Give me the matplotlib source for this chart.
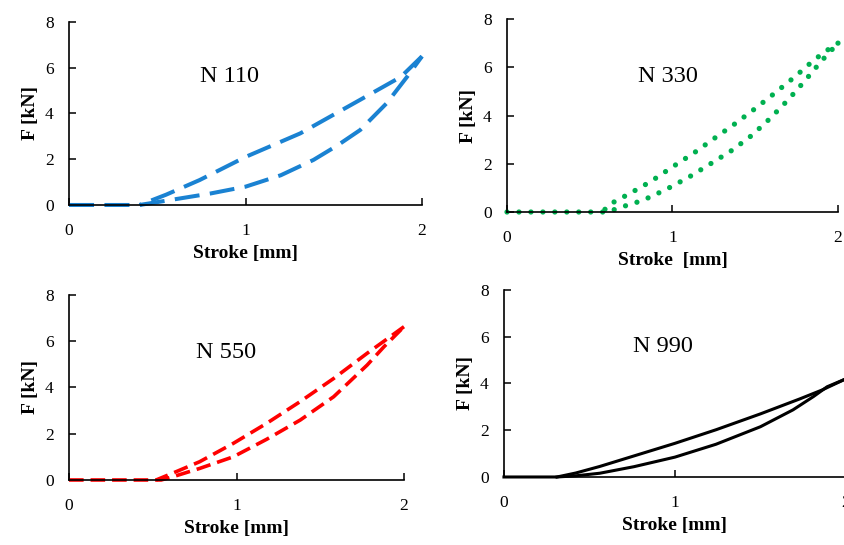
import matplotlib.pyplot as plt

plt.rcParams['font.family'] = ['Liberation Serif', 'DejaVu Serif']
plt.rcParams['lines.scale_dashes'] = False

# N 110 (loading / unloading), stroke in mm, force in kN
n110_load_x = [0.0, 0.4, 0.6, 0.8, 1.0, 1.2, 1.385, 1.52, 1.65, 1.8, 1.915, 2.0]
n110_load_f = [0.0, 0.0, 0.25, 0.5, 0.8, 1.3, 1.97, 2.6, 3.28, 4.45, 5.6, 6.5]
n110_unload_x = [2.0, 1.88, 1.65, 1.31, 1.0, 0.74, 0.55, 0.4]
n110_unload_f = [6.5, 5.6, 4.6, 3.13, 2.1, 1.09, 0.45, 0.0]

# N 330
n330_load_x = [0.0, 0.61, 0.68, 0.82, 0.96, 1.10, 1.23, 1.36, 1.48, 1.59, 1.70, 1.80, 1.90, 2.0]
n330_load_f = [0.0, 0.0, 0.18, 0.48, 0.93, 1.45, 2.0, 2.56, 3.18, 3.88, 4.66, 5.44, 6.26, 7.0]
n330_unload_x = [2.0, 1.92, 1.85, 1.74, 1.62, 1.50, 1.38, 1.25, 1.13, 1.0, 0.87, 0.74, 0.61, 0.58]
n330_unload_f = [7.0, 6.64, 6.27, 5.61, 4.94, 4.29, 3.67, 3.04, 2.45, 1.87, 1.27, 0.76, 0.28, 0.0]

# N 550
n550_load_x = [0.0, 0.55, 0.62, 0.78, 0.98, 1.18, 1.38, 1.58, 1.78, 1.88, 2.0]
n550_load_f = [0.0, 0.0, 0.14, 0.5, 1.0, 1.76, 2.59, 3.6, 4.97, 5.76, 6.63]
n550_unload_x = [2.0, 1.88, 1.78, 1.58, 1.38, 1.18, 0.98, 0.78, 0.64, 0.52]
n550_unload_f = [6.63, 6.0, 5.48, 4.39, 3.39, 2.45, 1.58, 0.79, 0.36, 0.0]

# N 990
n990_load_x = [0.0, 0.31, 0.42, 0.56, 0.76, 1.0, 1.24, 1.5, 1.69, 1.81, 1.89, 2.0]
n990_load_f = [0.0, 0.0, 0.05, 0.16, 0.44, 0.85, 1.4, 2.15, 2.87, 3.44, 3.86, 4.2]
n990_unload_x = [2.0, 1.86, 1.73, 1.5, 1.24, 1.0, 0.76, 0.56, 0.42, 0.31]
n990_unload_f = [4.2, 3.72, 3.34, 2.7, 2.02, 1.44, 0.9, 0.45, 0.17, 0.0]

fig = plt.figure(figsize=(8.45, 5.45), dpi=100)

panels = [
    ([0.0817, 0.6239, 0.4177, 0.3357], 'N 110', n110_load_x, n110_load_f, n110_unload_x, n110_unload_f,
     dict(color='#1A82D2', lw=2.9, dashes=(18, 7.5)), (0.91, 5.6), 'Stroke [mm]'),
    ([0.6000, 0.6110, 0.3917, 0.3541], 'N 330', n330_load_x, n330_load_f, n330_unload_x, n330_unload_f,
     dict(color='#00B050', lw=3.8, dashes=(0.01, 8.6), dash_capstyle='round'), (0.97, 5.6), 'Stroke  [mm]'),
    ([0.0817, 0.1193, 0.3964, 0.3394], 'N 550', n550_load_x, n550_load_f, n550_unload_x, n550_unload_f,
     dict(color='#FF0000', lw=2.6, dashes=(10.5, 5)), (0.94, 5.5), 'Stroke [mm]'),
    ([0.5964, 0.1248, 0.4047, 0.3431], 'N 990', n990_load_x, n990_load_f, n990_unload_x, n990_unload_f,
     dict(color='black', lw=2.2), (0.93, 5.6), 'Stroke [mm]'),
]

for rect, name, lx, lf, ux, uf, style, txt_pos, xlab in panels:
    ax = fig.add_axes(rect)
    ax.plot(lx, lf, clip_on=False, **style)
    ax.plot(ux, uf, clip_on=False, **style)
    ax.set_xlim(0, 2)
    ax.set_ylim(0, 8)
    ax.set_xticks([0, 1, 2])
    ax.set_yticks([0, 2, 4, 6, 8])
    ax.spines['top'].set_visible(False)
    ax.spines['right'].set_visible(False)
    for side in ['left', 'bottom']:
        ax.spines[side].set_linewidth(1.2)
    ax.tick_params(direction='in', length=5, width=1.1, labelsize=12.5)
    ax.tick_params(axis='x', pad=13)
    ax.tick_params(axis='y', pad=11)
    ax.set_xlabel(xlab, fontsize=14, fontweight='bold', labelpad=4)
    ax.set_ylabel('F [kN]', fontsize=14, fontweight='bold', labelpad=4)
    ax.text(txt_pos[0], txt_pos[1], name, fontsize=17.5, ha='center', va='center')

fig.savefig('out.png', dpi=100)
